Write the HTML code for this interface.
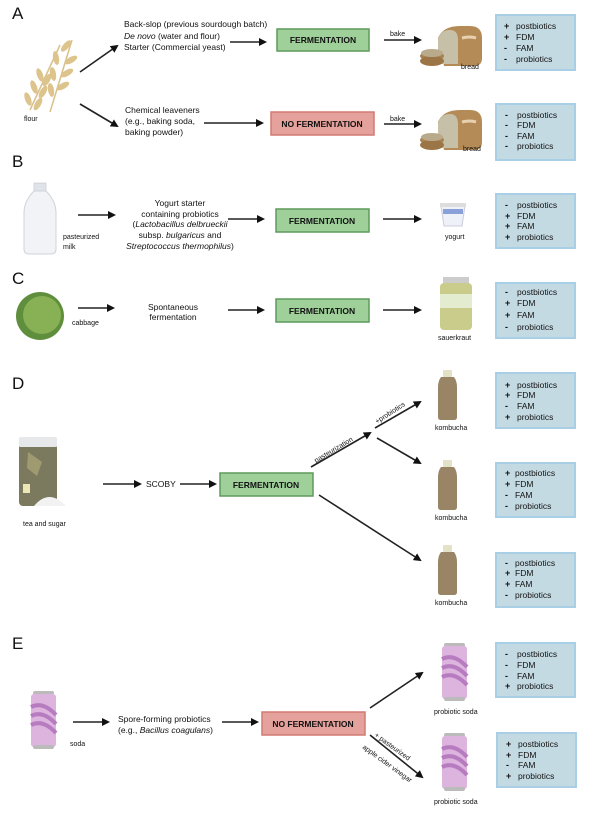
<!DOCTYPE html>
<html><head><meta charset="utf-8"><style>
html,body{margin:0;padding:0;background:#fff;}
svg{display:block;font-family:"Liberation Sans",Arial,sans-serif;}
.t{font-size:8.5px;fill:#111;}
.s{font-size:7px;fill:#111;}
.L{font-size:17px;fill:#111;}
.bx{font-size:8.5px;font-weight:bold;fill:#111;}
.g{fill:#9fd09a;stroke:#5f9a5c;stroke-width:1.5;}
.p{fill:#e5a19b;stroke:#d27a72;stroke-width:1.5;}
.b{fill:#c4dae3;stroke:#a8cfe6;stroke-width:2;}
.a{stroke:#222;stroke-width:1.6;fill:none;marker-end:url(#ah);}
.sg{font-size:9px;font-weight:bold;fill:#111;}
</style></head><body>
<svg width="604" height="814" viewBox="0 0 604 814" xmlns="http://www.w3.org/2000/svg">
<defs>
<marker id="ah" markerWidth="8" markerHeight="8" refX="6" refY="4" orient="auto" markerUnits="userSpaceOnUse"><path d="M0,0 L8,4 L0,8 z" fill="#111"/></marker>
<g id="bread"><path d="M438,40 q5,-12 22,-12 h10 q12,0 12,12 v20 q0,8 -8,8 h-30 z" fill="#b48a56"/><path d="M438,42 q2,-10 12,-10 q8,0 8,10 v24 h-20 z" fill="#c7c0a8"/><ellipse cx="432" cy="58" rx="12" ry="5" fill="#a98253"/><ellipse cx="432" cy="63" rx="12" ry="5" fill="#9c7546"/><ellipse cx="432" cy="55" rx="11" ry="4" fill="#b8aa8a"/><path d="M462,40 q8,-2 14,0" stroke="#e8d0b0" stroke-width="3" fill="none"/></g>
<g id="komb"><rect x="445" y="0" width="9" height="7" rx="1" fill="#e3e2c8"/><path d="M443,7 h13 q3,4 3,10 v30 q0,3 -3,3 h-13 q-3,0 -3,-3 v-30 q0,-6 3,-10z" fill="#9a8466"/></g>
<g id="can"><rect x="2" y="0" width="21" height="4" rx="2" fill="#bbb"/><rect x="0" y="3" width="25" height="53" rx="3" fill="#dcb4de"/><path d="M0,16 q12,-6 25,8 M0,25 q12,-6 25,8 M0,34 q12,-6 25,8" stroke="#b77cc0" stroke-width="4" fill="none"/><rect x="2" y="54" width="21" height="4" rx="2" fill="#bbb"/></g>
</defs>

<!-- A -->
<text class="L" x="12" y="19">A</text>
<g fill="#dcc48c">
<path d="M30,110 L60,45" stroke="#d8c08a" stroke-width="1.5"/><path d="M50,112 L72,40" stroke="#d8c08a" stroke-width="1.5"/>
<ellipse cx="40" cy="75" rx="3" ry="7" transform="rotate(-20 40 75)"/><ellipse cx="34" cy="87" rx="3" ry="7" transform="rotate(-20 34 87)"/><ellipse cx="28" cy="99" rx="3" ry="7" transform="rotate(-20 28 99)"/><ellipse cx="47" cy="80" rx="3" ry="7" transform="rotate(30 47 80)"/><ellipse cx="43" cy="92" rx="3" ry="7" transform="rotate(30 43 92)"/><ellipse cx="38" cy="104" rx="3" ry="7" transform="rotate(30 38 104)"/>
<ellipse cx="66" cy="46" rx="3" ry="7" transform="rotate(40 66 46)"/><ellipse cx="71" cy="60" rx="3" ry="7" transform="rotate(60 71 60)"/><ellipse cx="67" cy="73" rx="3" ry="7" transform="rotate(60 67 73)"/><ellipse cx="63" cy="86" rx="3" ry="7" transform="rotate(60 63 86)"/><ellipse cx="56" cy="58" rx="3" ry="7" transform="rotate(-10 56 58)"/><ellipse cx="53" cy="74" rx="3" ry="7" transform="rotate(-10 53 74)"/><ellipse cx="51" cy="90" rx="3" ry="7" transform="rotate(-10 51 90)"/>
</g>
<text class="s" x="24" y="121">flour</text>
<path class="a" d="M80,72 L117,46"/><path class="a" d="M80,104 L117,126"/>
<text class="t" x="124" y="27">Back-slop (previous sourdough batch)</text>
<text class="t" x="124" y="39"><tspan font-style="italic">De novo</tspan> (water and flour)</text>
<text class="t" x="124" y="50">Starter (Commercial yeast)</text>
<path class="a" d="M230,42 L265,42"/>
<rect class="g" x="277" y="29" width="92" height="22"/><text class="bx" x="323" y="43" text-anchor="middle">FERMENTATION</text>
<text class="s" x="390" y="36">bake</text><path class="a" d="M384,40 L420,40"/>
<use href="#bread" y="-2"/>
<text class="s" x="461" y="69">bread</text>
<rect class="b" x="496" y="15" width="79" height="55"/>
<text class="t" x="516" y="29">postbiotics</text><text class="t" x="516" y="40">FDM</text><text class="t" x="516" y="51">FAM</text><text class="t" x="516" y="62">probiotics</text>
<text class="sg" x="504" y="29">+</text><text class="sg" x="504" y="40">+</text><text class="sg" x="504" y="51">-</text><text class="sg" x="504" y="62">-</text>

<text class="t" x="125" y="113">Chemical leaveners</text><text class="t" x="125" y="124">(e.g., baking soda,</text><text class="t" x="125" y="135">baking powder)</text>
<path class="a" d="M204,123 L262,123"/>
<rect class="p" x="271" y="112" width="103" height="23"/><text class="bx" x="322" y="127" text-anchor="middle">NO FERMENTATION</text>
<text class="s" x="390" y="121">bake</text><path class="a" d="M384,124 L420,124"/>
<use href="#bread" y="82"/>
<text class="s" x="463" y="151">bread</text>
<rect class="b" x="496" y="104" width="79" height="56"/>
<text class="t" x="517" y="118">postbiotics</text><text class="t" x="517" y="128">FDM</text><text class="t" x="517" y="139">FAM</text><text class="t" x="517" y="149">probiotics</text>
<text class="sg" x="505" y="118">-</text><text class="sg" x="505" y="128">-</text><text class="sg" x="505" y="139">-</text><text class="sg" x="505" y="149">-</text>

<!-- B -->
<text class="L" x="12" y="167">B</text>
<rect x="34" y="183" width="12" height="8" fill="#dfe3ea" stroke="#bbb" stroke-width=".5"/>
<path d="M34,191 h12 q10,10 10,22 v36 q0,5 -5,5 h-22 q-5,0 -5,-5 v-36 q0,-12 10,-22z" fill="#f1f3f6" stroke="#cfd3da"/>
<text class="s" x="63" y="239">pasteurized</text><text class="s" x="63" y="249">milk</text>
<path class="a" d="M78,215 L114,215"/>
<g class="t" text-anchor="middle">
<text x="180" y="206">Yogurt starter</text><text x="180" y="217">containing probiotics</text>
<text x="180" y="227">(<tspan font-style="italic">Lactobacillus delbrueckii</tspan></text>
<text x="180" y="238">subsp. <tspan font-style="italic">bulgaricus</tspan> and</text>
<text x="180" y="249"><tspan font-style="italic">Streptococcus thermophilus</tspan>)</text></g>
<path class="a" d="M228,219 L263,219"/>
<rect class="g" x="276" y="209" width="93" height="23"/><text class="bx" x="322" y="224" text-anchor="middle">FERMENTATION</text>
<path class="a" d="M383,219 L420,219"/>
<path d="M441,206 h24 l-3,20 h-18z" fill="#eef1f7" stroke="#ccd"/><rect x="440" y="203" width="26" height="4" fill="#ddd"/><rect x="443" y="209" width="20" height="5" fill="#8aa0d8"/>
<text class="s" x="445" y="239">yogurt</text>
<rect class="b" x="496" y="194" width="79" height="54"/>
<text class="t" x="517" y="208">postbiotics</text><text class="t" x="517" y="219">FDM</text><text class="t" x="517" y="229">FAM</text><text class="t" x="517" y="240">probiotics</text>
<text class="sg" x="505" y="208">-</text><text class="sg" x="505" y="219">+</text><text class="sg" x="505" y="229">+</text><text class="sg" x="505" y="240">+</text>

<!-- C -->
<text class="L" x="12" y="284">C</text>
<circle cx="40" cy="316" r="24" fill="#5f8f3c"/><circle cx="42" cy="315" r="19" fill="#88b055"/>
<text class="s" x="72" y="325">cabbage</text>
<path class="a" d="M78,308 L113,308"/>
<text class="t" x="173" y="310" text-anchor="middle">Spontaneous</text><text class="t" x="173" y="320" text-anchor="middle">fermentation</text>
<path class="a" d="M228,310 L263,310"/>
<rect class="g" x="276" y="299" width="93" height="23"/><text class="bx" x="322" y="314" text-anchor="middle">FERMENTATION</text>
<path class="a" d="M383,310 L420,310"/>
<rect x="443" y="277" width="26" height="6" fill="#ccc"/><rect x="440" y="283" width="32" height="47" rx="4" fill="#c9cc8a"/><rect x="440" y="294" width="32" height="14" fill="#e4ecd0"/>
<text class="s" x="438" y="340">sauerkraut</text>
<rect class="b" x="496" y="283" width="79" height="55"/>
<text class="t" x="517" y="295">postbiotics</text><text class="t" x="517" y="306">FDM</text><text class="t" x="517" y="318">FAM</text><text class="t" x="517" y="330">probiotics</text>
<text class="sg" x="505" y="295">-</text><text class="sg" x="505" y="306">+</text><text class="sg" x="505" y="318">+</text><text class="sg" x="505" y="330">-</text>

<!-- D -->
<text class="L" x="12" y="389">D</text>
<rect x="19" y="444" width="38" height="62" rx="4" fill="#7c7a5e"/><rect x="19" y="437" width="38" height="10" rx="2" fill="#e6e8ea"/>
<path d="M28,452 l14,10 l-5,14 l-10,-8z" fill="#a09a70"/><rect x="23" y="484" width="7" height="9" fill="#efe6b8"/>
<path d="M34,506 q15,-18 32,0z" fill="#f2f2f2"/>
<text class="s" x="23" y="526">tea and sugar</text>
<path class="a" d="M103,484 L140,484"/>
<text class="t" x="146" y="487">SCOBY</text>
<path class="a" d="M180,484 L215,484"/>
<rect class="g" x="220" y="473" width="93" height="23"/><text class="bx" x="266" y="488" text-anchor="middle">FERMENTATION</text>
<path class="a" d="M311,467 L370,433"/>
<text class="s" transform="translate(316,463) rotate(-31)">pasteurization</text>
<path class="a" d="M375,428 L420,402"/>
<text class="s" transform="translate(377,424) rotate(-33)">+probiotics</text>
<path class="a" d="M377,438 L420,463"/>
<path class="a" d="M319,495 L420,560"/>
<use href="#komb" x="-2" y="370"/><use href="#komb" x="-2" y="460"/><use href="#komb" x="-2" y="545"/>
<text class="s" x="435" y="430">kombucha</text><text class="s" x="435" y="520">kombucha</text><text class="s" x="435" y="605">kombucha</text>
<rect class="b" x="496" y="373" width="79" height="55"/>
<text class="t" x="517" y="388">postbiotics</text><text class="t" x="517" y="398">FDM</text><text class="t" x="517" y="409">FAM</text><text class="t" x="517" y="420">probiotics</text>
<text class="sg" x="505" y="388">+</text><text class="sg" x="505" y="398">+</text><text class="sg" x="505" y="409">-</text><text class="sg" x="505" y="420">+</text>
<rect class="b" x="496" y="463" width="79" height="54"/>
<text class="t" x="515" y="476">postbiotics</text><text class="t" x="515" y="487">FDM</text><text class="t" x="515" y="498">FAM</text><text class="t" x="515" y="509">probiotics</text>
<text class="sg" x="505" y="476">+</text><text class="sg" x="505" y="487">+</text><text class="sg" x="505" y="498">-</text><text class="sg" x="505" y="509">-</text>
<rect class="b" x="496" y="553" width="79" height="54"/>
<text class="t" x="515" y="566">postbiotics</text><text class="t" x="515" y="576">FDM</text><text class="t" x="515" y="587">FAM</text><text class="t" x="515" y="598">probiotics</text>
<text class="sg" x="505" y="566">-</text><text class="sg" x="505" y="576">+</text><text class="sg" x="505" y="587">+</text><text class="sg" x="505" y="598">-</text>

<!-- E -->
<text class="L" x="12" y="649">E</text>
<use href="#can" x="31" y="691"/>
<text class="s" x="70" y="746">soda</text>
<path class="a" d="M73,722 L108,722"/>
<text class="t" x="118" y="722">Spore-forming probiotics</text>
<text class="t" x="118" y="733">(e.g., <tspan font-style="italic">Bacillus coagulans</tspan>)</text>
<path class="a" d="M222,722 L257,722"/>
<rect class="p" x="262" y="712" width="103" height="23"/><text class="bx" x="313" y="727" text-anchor="middle">NO FERMENTATION</text>
<path class="a" d="M370,708 L422,673"/>
<path class="a" d="M370,735 L422,777"/>
<text class="s" transform="translate(374,736) rotate(36)">+ pasteurized</text>
<text class="s" transform="translate(362,748) rotate(36)">apple cider vinegar</text>
<use href="#can" x="442" y="643"/><use href="#can" x="442" y="733"/>
<text class="s" x="434" y="714">probiotic soda</text><text class="s" x="434" y="804">probiotic soda</text>
<rect class="b" x="496" y="643" width="79" height="54"/>
<text class="t" x="517" y="657">postbiotics</text><text class="t" x="517" y="668">FDM</text><text class="t" x="517" y="679">FAM</text><text class="t" x="517" y="689">probiotics</text>
<text class="sg" x="505" y="657">-</text><text class="sg" x="505" y="668">-</text><text class="sg" x="505" y="679">-</text><text class="sg" x="505" y="689">+</text>
<rect class="b" x="497" y="733" width="79" height="54"/>
<text class="t" x="518" y="747">postbiotics</text><text class="t" x="518" y="758">FDM</text><text class="t" x="518" y="768">FAM</text><text class="t" x="518" y="779">probiotics</text>
<text class="sg" x="506" y="747">+</text><text class="sg" x="506" y="758">+</text><text class="sg" x="506" y="768">-</text><text class="sg" x="506" y="779">+</text>
</svg>
</body></html>
